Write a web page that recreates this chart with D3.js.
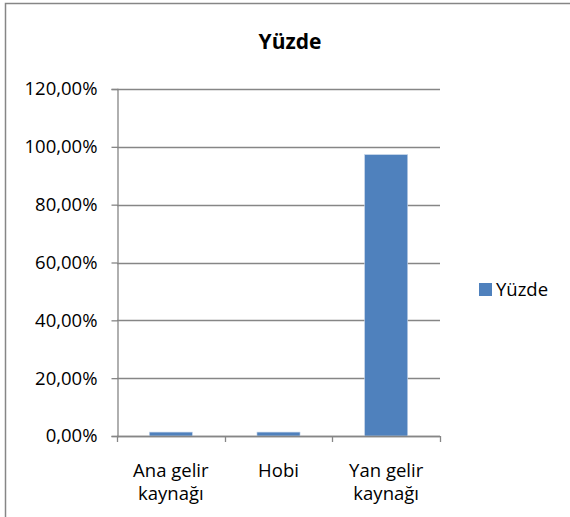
<!DOCTYPE html>
<html>
<head>
<meta charset="utf-8">
<script src="https://cdn.jsdelivr.net/npm/d3@7"></script>
<style>
  body { margin: 0; background: #fff; }
  text { font-family: "Open Sans", sans-serif; fill: #000; }
</style>
</head>
<body>
<svg width="570" height="517"></svg>
<script>
// chart values
var categories = [["Ana gelir", "kaynağı"], ["Hobi"], ["Yan gelir", "kaynağı"]]
var values = [0.0135, 0.0135, 0.973]
var yTicks = [0, 0.2, 0.4, 0.6, 0.8, 1.0, 1.2]
var seriesName = "Yüzde"

var svg = d3.select("svg"),
    width = +svg.attr("width"),
    height = +svg.attr("height")

var plot = { left: 117, right: 440, top: 89, bottom: 436 }

// outer chart border (cropped on the right and bottom like the original)
svg.append("rect")
    .attr("x", 5.5).attr("y", 3.5)
    .attr("width", 700).attr("height", 700)
    .attr("fill", "#fff")
    .attr("stroke", "#868686")
    .attr("stroke-width", 1.5)

var x = d3.scaleBand()
    .domain(d3.range(categories.length))
    .range([plot.left, plot.right])
    .paddingInner(0.6)
    .paddingOuter(0.3)

var y = d3.scaleLinear()
    .domain([0, 1.2])
    .range([plot.bottom, plot.top])

var fmt = function(d) { return d3.format(".2f")(d * 100).replace(".", ",") + "%" }

// gridlines
svg.append("g")
    .selectAll("line")
    .data(yTicks)
    .enter().append("line")
    .attr("x1", plot.left).attr("x2", plot.right)
    .attr("y1", function(d) { return Math.round(y(d)) + 0.5 })
    .attr("y2", function(d) { return Math.round(y(d)) + 0.5 })
    .attr("stroke", "#868686")
    .attr("stroke-width", 1.3)

// y axis
var yAxis = svg.append("g")
    .attr("transform", "translate(" + (plot.left + 0.5) + ",0)")
    .call(d3.axisLeft(y).tickValues(yTicks).tickFormat(fmt).tickSize(6).tickPadding(14))
yAxis.select(".domain").attr("stroke", "#868686").attr("stroke-width", 1.3)
yAxis.selectAll(".tick line").attr("stroke", "#868686").attr("stroke-width", 1.3)
yAxis.selectAll("text")
    .style("font-family", "'Open Sans', sans-serif")
    .style("font-size", "18.5px")
    .attr("fill", "#000")

// bars
svg.append("g")
    .selectAll("rect")
    .data(values)
    .enter().append("rect")
    .attr("x", function(d, i) { return x(i) })
    .attr("y", function(d) { return y(d) })
    .attr("width", x.bandwidth())
    .attr("height", function(d) { return y(0) - y(d) })
    .attr("fill", "#4F81BD")
    .attr("stroke", "#c6d6ea")
    .attr("stroke-width", 0.6)

// x axis with category boundary ticks
var xg = svg.append("g")
xg.append("line")
    .attr("x1", plot.left).attr("x2", plot.right)
    .attr("y1", plot.bottom + 0.5).attr("y2", plot.bottom + 0.5)
    .attr("stroke", "#868686").attr("stroke-width", 1.3)
var bounds = d3.range(categories.length + 1).map(function(i) {
  return plot.left + i * x.step()
})
xg.selectAll(".xt")
    .data(bounds)
    .enter().append("line")
    .attr("class", "xt")
    .attr("x1", function(d) { return Math.round(d) + 0.5 })
    .attr("x2", function(d) { return Math.round(d) + 0.5 })
    .attr("y1", plot.bottom).attr("y2", plot.bottom + 6)
    .attr("stroke", "#868686").attr("stroke-width", 1.3)

var labels = xg.selectAll(".xl")
    .data(categories)
    .enter().append("text")
    .attr("class", "xl")
    .attr("text-anchor", "middle")
    .style("font-size", "18.5px")
labels.selectAll("tspan")
    .data(function(d, i) { return d.map(function(t) { return { t: t, i: i } }) })
    .enter().append("tspan")
    .attr("x", function(d) { return x(d.i) + x.bandwidth() / 2 })
    .attr("y", function(d, j) { return 477 + j * 23 })
    .text(function(d) { return d.t })

// title
svg.append("text")
    .attr("x", 290).attr("y", 49)
    .attr("text-anchor", "middle")
    .style("font-size", "21px")
    .style("font-weight", "bold")
    .text(seriesName)

// legend
var legend = svg.append("g")
legend.append("rect")
    .attr("x", 479).attr("y", 283)
    .attr("width", 13).attr("height", 13)
    .attr("fill", "#4F81BD")
legend.append("text")
    .attr("x", 496).attr("y", 296)
    .style("font-size", "18.5px")
    .text(seriesName)
</script>
</body>
</html>
